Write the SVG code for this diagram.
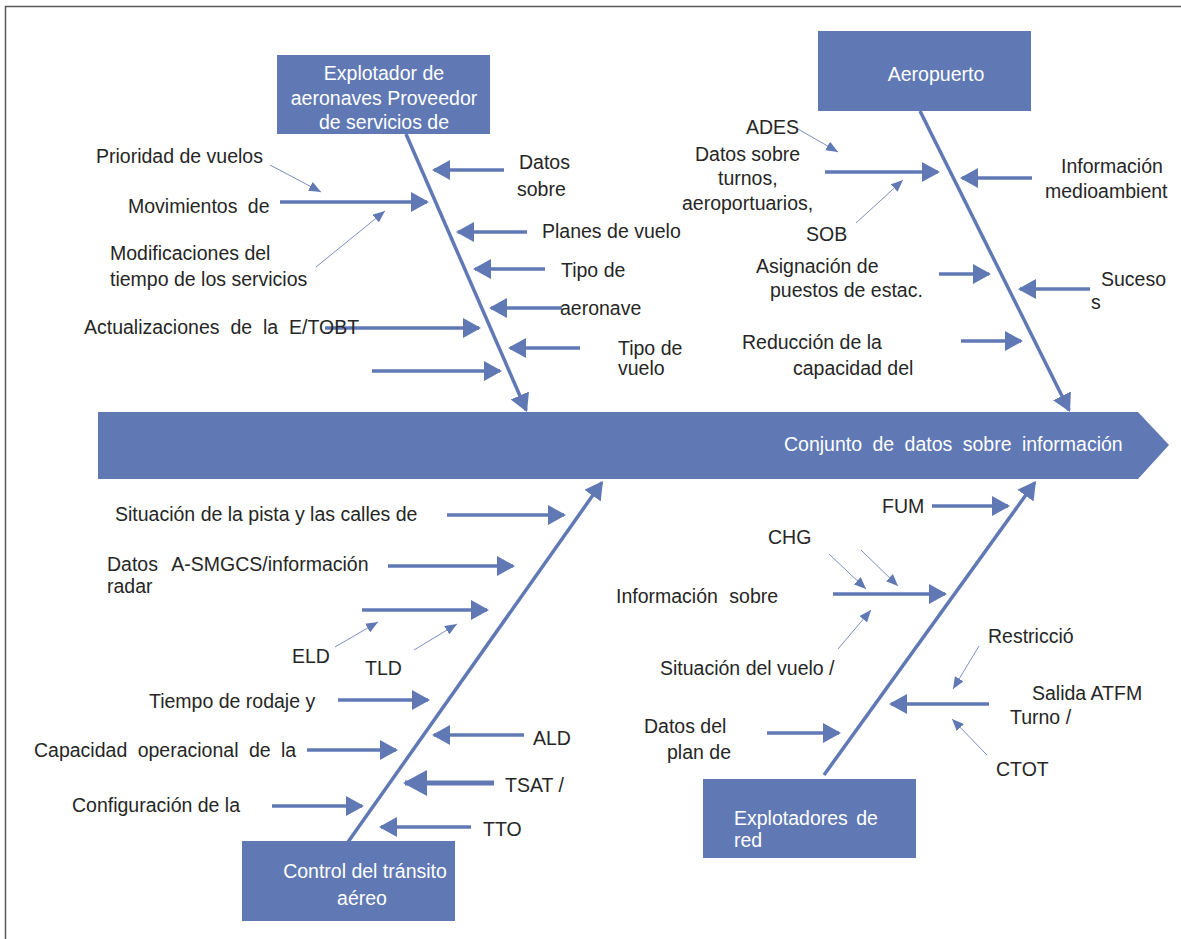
<svg xmlns="http://www.w3.org/2000/svg" width="1181" height="939" viewBox="0 0 1181 939">
<style>
.t{font-family:"Liberation Sans",Arial,sans-serif;font-size:19.5px;fill:#262626}
.w{font-family:"Liberation Sans",Arial,sans-serif;font-size:19.5px;fill:#ffffff}
.box{fill:#6079b5}
.bone{stroke:#6079b5;stroke-width:3.5;fill:none;marker-end:url(#ah)}
.arr{stroke:#6079b5;stroke-width:3.5;fill:none;marker-end:url(#ah)}
.big{stroke:#6079b5;stroke-width:5;fill:none;marker-end:url(#ab)}
.thin{stroke:#7d8dc3;stroke-width:1;fill:none;marker-end:url(#as)}
</style>
<defs>
<marker id="ah" markerUnits="userSpaceOnUse" markerWidth="18" markerHeight="20" viewBox="0 0 18 20" refX="16" refY="10" orient="auto"><path d="M0,0L18,10L0,20z" fill="#6079b5"/></marker>
<marker id="ab" markerUnits="userSpaceOnUse" markerWidth="24" markerHeight="26" viewBox="0 0 24 26" refX="22" refY="13" orient="auto"><path d="M0,0L24,13L0,26z" fill="#6079b5"/></marker>
<marker id="as" markerUnits="userSpaceOnUse" markerWidth="12" markerHeight="10" viewBox="0 0 12 10" refX="12" refY="5" orient="auto"><path d="M0,0L12,5L0,10z" fill="#6079b5"/></marker>
</defs>
<rect x="5.5" y="6.5" width="1200" height="1000" fill="none" stroke="#595959" stroke-width="1.5"/>

<g id="spine">
<polygon class="box" points="98,412 1138,412 1169,445 1138,479 98,479"/>
<text class="w" x="784" y="451" word-spacing="5">Conjunto de datos sobre información</text>
</g>

<g id="node-explotador">
<rect class="box" x="277" y="55" width="213" height="79"/>
<text class="w" text-anchor="middle" x="384" y="80">Explotador de</text>
<text class="w" text-anchor="middle" x="384" y="105">aeronaves Proveedor</text>
<text class="w" text-anchor="middle" x="384" y="129">de servicios de</text>
</g>

<g id="node-aeropuerto">
<rect class="box" x="818" y="31" width="213" height="80"/>
<text class="w" text-anchor="middle" x="936" y="81">Aeropuerto</text>
</g>

<g id="node-atc">
<rect class="box" x="242" y="841" width="213" height="80"/>
<text class="w" text-anchor="middle" x="365" y="878">Control del tránsito</text>
<text class="w" text-anchor="middle" x="362" y="905">aéreo</text>
</g>

<g id="node-red">
<rect class="box" x="703" y="779" width="213" height="79"/>
<text class="w" x="734" y="825" word-spacing="3">Explotadores de</text>
<text class="w" x="734" y="847">red</text>
</g>

<g id="connectors">
<!-- bones -->
<line class="bone" x1="406" y1="134" x2="526.2" y2="410.2"/>
<line class="bone" x1="920" y1="111" x2="1069.1" y2="410.2"/>
<line class="bone" x1="348" y1="842" x2="601.8" y2="482.6"/>
<line class="bone" x1="824" y1="775" x2="1034.8" y2="482.6"/>
<!-- top-left -->
<line class="arr" x1="280" y1="202" x2="427" y2="202"/>
<line class="arr" x1="325" y1="328" x2="479" y2="328"/>
<line class="arr" x1="372" y1="371" x2="500" y2="371"/>
<line class="arr" x1="504" y1="170" x2="434" y2="170"/>
<line class="arr" x1="527" y1="232" x2="458" y2="232"/>
<line class="arr" x1="545" y1="269" x2="475" y2="269"/>
<line class="arr" x1="562" y1="308" x2="491" y2="308"/>
<line class="arr" x1="580" y1="348" x2="510" y2="348"/>
<!-- top-right -->
<line class="arr" x1="825" y1="172" x2="938" y2="172"/>
<line class="arr" x1="1032" y1="178" x2="962" y2="178"/>
<line class="arr" x1="939" y1="274" x2="989" y2="274"/>
<line class="arr" x1="1090" y1="289" x2="1020" y2="289"/>
<line class="arr" x1="961" y1="341" x2="1021" y2="341"/>
<!-- bottom-left -->
<line class="arr" x1="447" y1="515" x2="564" y2="515"/>
<line class="arr" x1="388" y1="566" x2="513" y2="566"/>
<line class="arr" x1="362" y1="610" x2="487" y2="610"/>
<line class="arr" x1="338" y1="700" x2="428" y2="700"/>
<line class="arr" x1="307" y1="750" x2="396" y2="750"/>
<line class="arr" x1="272" y1="806" x2="362" y2="806"/>
<line class="arr" x1="524" y1="735" x2="434" y2="735"/>
<line class="big" x1="494" y1="783" x2="405" y2="783"/>
<line class="arr" x1="471" y1="827" x2="381" y2="827"/>
<!-- bottom-right -->
<line class="arr" x1="932" y1="506" x2="1008" y2="506"/>
<line class="arr" x1="833" y1="594" x2="945" y2="594"/>
<line class="arr" x1="767" y1="733" x2="839" y2="733"/>
<line class="arr" x1="989" y1="704" x2="891" y2="704"/>
<!-- thin pointers -->
<line class="thin" x1="270" y1="165" x2="321" y2="192"/>
<line class="thin" x1="316" y1="267" x2="385" y2="211"/>
<line class="thin" x1="798" y1="129" x2="838" y2="152"/>
<line class="thin" x1="856" y1="223" x2="903" y2="180"/>
<line class="thin" x1="335" y1="647" x2="378" y2="622"/>
<line class="thin" x1="414" y1="650" x2="457" y2="624"/>
<line class="thin" x1="829" y1="554" x2="866" y2="589"/>
<line class="thin" x1="861" y1="550" x2="898" y2="586"/>
<line class="thin" x1="838" y1="649" x2="871" y2="610"/>
<line class="thin" x1="979" y1="646" x2="953" y2="689"/>
<line class="thin" x1="987" y1="755" x2="952" y2="719"/>
</g>

<g id="labels-explotador">
<text class="t" x="96" y="163">Prioridad de vuelos</text>
<text class="t" x="128" y="213" word-spacing="5">Movimientos de</text>
<text class="t" x="110" y="260">Modificaciones del</text>
<text class="t" x="110" y="286">tiempo de los servicios</text>
<text class="t" x="84" y="334" word-spacing="5.5">Actualizaciones de la E/TOBT</text>
<text class="t" x="519" y="169">Datos</text>
<text class="t" x="517" y="196">sobre</text>
<text class="t" x="542" y="238">Planes de vuelo</text>
<text class="t" x="561" y="277">Tipo de</text>
<text class="t" x="560" y="315">aeronave</text>
<text class="t" x="618" y="355">Tipo de</text>
<text class="t" x="618" y="375">vuelo</text>
</g>

<g id="labels-aeropuerto">
<text class="t" x="746" y="134">ADES</text>
<text class="t" x="695" y="161">Datos sobre</text>
<text class="t" x="718" y="185">turnos,</text>
<text class="t" x="682" y="210">aeroportuarios,</text>
<text class="t" x="806" y="241">SOB</text>
<text class="t" x="1061" y="173">Información</text>
<text class="t" x="1045" y="198">medioambient</text>
<text class="t" x="756" y="273">Asignación de</text>
<text class="t" x="770" y="297">puestos de estac.</text>
<text class="t" x="1101" y="286">Suceso</text>
<text class="t" x="1091" y="309">s</text>
<text class="t" x="742" y="349">Reducción de la</text>
<text class="t" x="793" y="375">capacidad del</text>
</g>

<g id="labels-atc">
<text class="t" x="115" y="521">Situación de la pista y las calles de</text>
<text class="t" x="107" y="571" word-spacing="9">Datos A-SMGCS/información</text>
<text class="t" x="107" y="593">radar</text>
<text class="t" x="292" y="663">ELD</text>
<text class="t" x="365" y="675">TLD</text>
<text class="t" x="149" y="708">Tiempo de rodaje y</text>
<text class="t" x="34" y="757" word-spacing="5">Capacidad operacional de la</text>
<text class="t" x="533" y="745">ALD</text>
<text class="t" x="505" y="792">TSAT /</text>
<text class="t" x="72" y="812">Configuración de la</text>
<text class="t" x="483" y="836">TTO</text>
</g>

<g id="labels-red">
<text class="t" x="882" y="513">FUM</text>
<text class="t" x="768" y="544">CHG</text>
<text class="t" x="616" y="603" word-spacing="6">Información sobre</text>
<text class="t" x="660" y="675">Situación del vuelo /</text>
<text class="t" x="988" y="643">Restricció</text>
<text class="t" x="1032" y="700">Salida ATFM</text>
<text class="t" x="1010" y="724">Turno /</text>
<text class="t" x="644" y="733">Datos del</text>
<text class="t" x="667" y="759">plan de</text>
<text class="t" x="996" y="776">CTOT</text>
</g>
</svg>
